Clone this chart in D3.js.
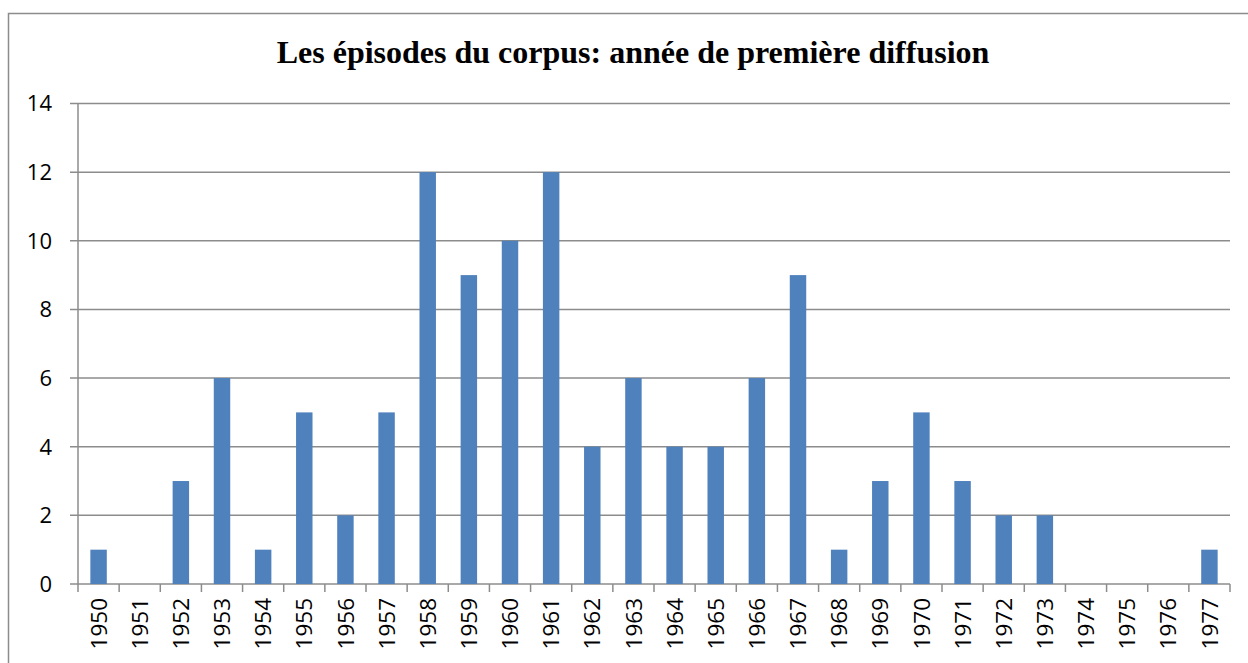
<!DOCTYPE html>
<html>
<head>
<meta charset="utf-8">
<script src="https://cdn.jsdelivr.net/npm/d3@7"></script>
<style>
  body { margin: 0; background: #fff; }
  svg { display: block; }
</style>
</head>
<body>
<svg width="1248" height="663"></svg>
<script>
// chart data
const years = ["1950","1951","1952","1953","1954","1955","1956","1957","1958","1959",
  "1960","1961","1962","1963","1964","1965","1966","1967","1968","1969",
  "1970","1971","1972","1973","1974","1975","1976","1977"];
const counts = [1,0,3,6,1,5,2,5,12,9,10,12,4,6,4,4,6,9,1,3,5,3,2,2,0,0,0,1];
const yTicks = [0,2,4,6,8,10,12,14];
const title = "Les épisodes du corpus: année de première diffusion";

const svg = d3.select("svg");
const plotLeft = 78, plotRight = 1230, plotTop = 103.5, plotBottom = 584;

// outer frame (chart area border)
svg.append("path")
    .attr("d", "M8.5,700 V13.5 H1260")
    .attr("fill", "none")
    .attr("stroke", "#8c8c8c")
    .attr("stroke-width", 1.5);

svg.append("text")
    .attr("x", 633)
    .attr("y", 63)
    .attr("text-anchor", "middle")
    .style("font-family", "'Liberation Serif', serif")
    .style("font-weight", "bold")
    .style("font-size", "32px")
    .text(title);

const x = d3.scaleBand().domain(years).range([plotLeft, plotRight]);
const y = d3.scaleLinear().domain([0, 14]).range([plotBottom, plotTop]);

// horizontal gridlines
svg.append("g")
    .selectAll("line")
    .data(yTicks)
    .enter()
    .append("line")
    .attr("x1", plotLeft - 8)
    .attr("x2", plotRight)
    .attr("y1", d => y(d))
    .attr("y2", d => y(d))
    .attr("stroke", "#8c8c8c")
    .attr("stroke-width", 1.5);

// y labels
svg.append("g")
    .selectAll("text")
    .data(yTicks)
    .enter()
    .append("text")
    .attr("x", 52)
    .attr("y", d => y(d))
    .attr("dy", "0.36em")
    .attr("text-anchor", "end")
    .style("font-family", "'Open Sans', sans-serif")
    .style("font-size", "22px")
    .text(d => d);

// bars
const bw = x.bandwidth() * 0.4;
svg.append("g")
    .selectAll("rect")
    .data(counts)
    .enter()
    .append("rect")
    .attr("x", (d, i) => x(years[i]) + (x.bandwidth() - bw) / 2)
    .attr("y", d => y(d))
    .attr("width", bw)
    .attr("height", d => plotBottom - y(d))
    .attr("fill", "#4f81bd");

// y axis line
svg.append("line")
    .attr("x1", plotLeft).attr("x2", plotLeft)
    .attr("y1", plotTop).attr("y2", plotBottom + 8)
    .attr("stroke", "#8c8c8c")
    .attr("stroke-width", 1.5);

// x ticks at band boundaries
svg.append("g")
    .selectAll("line")
    .data(years)
    .enter()
    .append("line")
    .attr("x1", d => x(d) + x.step())
    .attr("x2", d => x(d) + x.step())
    .attr("y1", plotBottom)
    .attr("y2", plotBottom + 8)
    .attr("stroke", "#8c8c8c")
    .attr("stroke-width", 1.5);

// x labels, rotated
svg.append("g")
    .selectAll("text")
    .data(years)
    .enter()
    .append("text")
    .attr("transform", d => `translate(${x(d) + x.bandwidth() / 2},598) rotate(-90)`)
    .attr("dy", "0.36em")
    .attr("text-anchor", "end")
    .style("font-family", "'Open Sans', sans-serif")
    .style("font-size", "22.5px")
    .text(d => d);
</script>
</body>
</html>
